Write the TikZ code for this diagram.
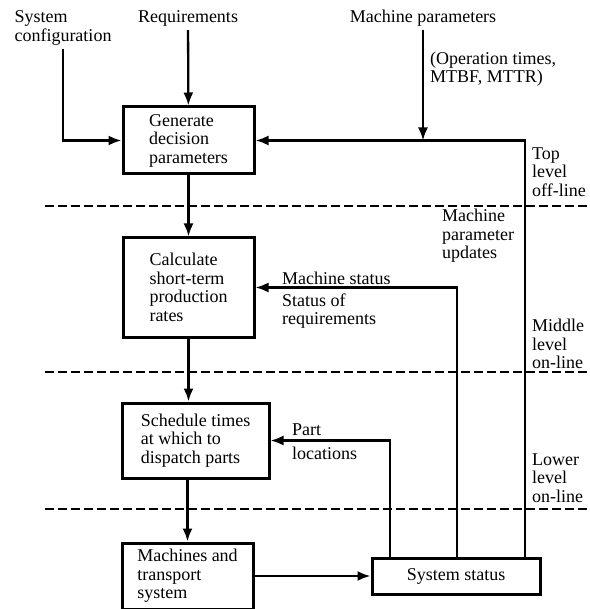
\documentclass[tikz,border=0pt]{standalone}
\usepackage{fontspec}
\setmainfont{Liberation Serif}
\usetikzlibrary{arrows.meta}

\begin{document}
\begin{tikzpicture}[x=1pt, y=-1pt, font=\fontsize{18}{18.5}\selectfont,
        blk/.style={draw, line width=3pt, align=left, inner sep=0pt},
        src/.style={align=left, inner sep=4pt},
        lbl/.style={align=left, inner sep=0pt, anchor=west},
        flow/.style={line width=2.3pt, -{Latex[length=13pt, width=10pt]}},
        level/.style={line width=1.6pt, dash pattern=on 9pt off 4pt}]
        \useasboundingbox (0,0) rectangle (589,609);

        \foreach \y in {206,372,509}
            \draw[level] (45,\y) -- (589,\y);

        \node[blk, minimum width=131pt, minimum height=67pt] (gen) at (188.5,140.5) {Generate\\decision\\parameters};
        \node[blk, minimum width=131pt, minimum height=99pt] (calc) at (188.5,287.5) {Calculate\\short-term\\production\\rates};
        \node[blk, minimum width=147pt, minimum height=75pt] (sched) at (195.5,440.5) {Schedule times\\at which to\\dispatch parts};
        \node[blk, minimum width=131pt, minimum height=66pt] (mach) at (187.5,576) {Machines and\\transport\\system};
        \node[blk, minimum width=168pt, minimum height=36pt] (status) at (456,576) {System status};

        \node[src] (syscfg) at (63,28) {System\\configuration};
        \node[src] (req) at (188,18) {Requirements};
        \node[src] (mpar) at (423,18) {Machine parameters};

        \draw[flow] (syscfg) |- (gen);
        \draw[flow] (req) -- (gen);
        \draw[flow] (mpar) -- (mpar |- gen);

        \draw[flow] (gen) -- (calc);
        \draw[flow] (calc) -- (calc |- sched.north);
        \draw[flow] (sched.south -| mach) -- (mach);
        \draw[flow] (mach) -- (status);

        % feedback from the shop floor
        \draw[flow] ([xshift=69pt]status.north) |- (gen);
        \draw[flow] ([xshift=1pt]status.north) |- (calc);
        \draw[flow] ([xshift=-66pt]status.north) |- (sched);

        \node[lbl] (opt) at (430,69) {(Operation times,\\MTBF, MTTR)};
        \node[lbl] (toplvl) at (532,172) {Top\\level\\off-line};
        \node[lbl] (upd) at (442,236) {Machine\\parameter\\updates};
        \node[lbl] (mstat) at (282,278) {Machine status};
        \node[lbl] (rstat) at (282,311) {Status of\\requirements};
        \node[lbl] (midlvl) at (532,344) {Middle\\level\\on-line};
        \node[lbl] (part) at (292,430) {Part};
        \node[lbl] (loc) at (292,453) {locations};
        \node[lbl] (lowlvl) at (532,478) {Lower\\level\\on-line};
\end{tikzpicture}
\end{document}
